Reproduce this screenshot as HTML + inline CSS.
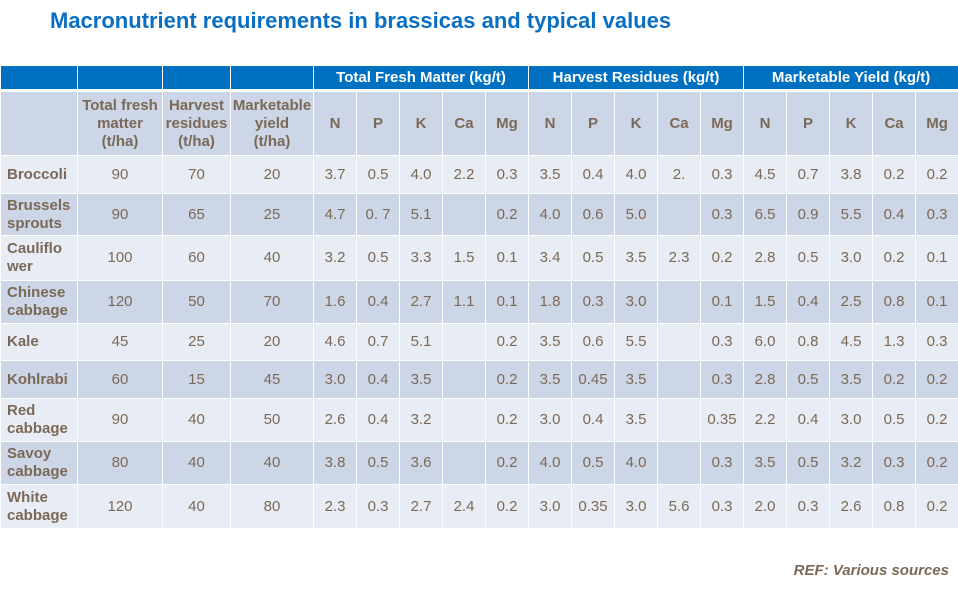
<!DOCTYPE html>
<html><head><meta charset="utf-8"><style>
body{margin:0;width:958px;height:593px;background:#fff;position:relative;overflow:hidden;font-family:"Liberation Sans",Arial,sans-serif}
.title{position:absolute;left:50px;top:8px;font-size:22px;font-weight:bold;color:#0a6fc2;white-space:nowrap}
table{position:absolute;left:0;top:65px;border-collapse:collapse;table-layout:fixed;width:958px}
td{border:1px solid #fff;text-align:center;vertical-align:middle;color:#7b6957;font-size:15px;padding:0;line-height:18px;white-space:nowrap}
tr.h1 td{background:#0070c0;color:#fff;font-weight:bold;height:23px;border-bottom:3px solid #fff}
tr.h2 td{background:#cdd6e6;font-weight:bold;height:63px}
tr.l td{background:#e8ecf4}
tr.d td{background:#cdd6e6}
td.n{text-align:left;padding-left:6px;font-weight:bold}
.ref{position:absolute;right:9px;top:562px;font-size:15px;font-weight:bold;font-style:italic;color:#7b6957}
</style></head><body>
<div class="title">Macronutrient requirements in brassicas and typical values</div>
<table>
<colgroup><col style="width:77px"><col style="width:85px"><col style="width:68px"><col style="width:83px">
<col style="width:43px"><col style="width:43px"><col style="width:43px"><col style="width:43px"><col style="width:43px">
<col style="width:43px"><col style="width:43px"><col style="width:43px"><col style="width:43px"><col style="width:43px">
<col style="width:43px"><col style="width:43px"><col style="width:43px"><col style="width:43px"><col style="width:43px"></colgroup>
<tr class="h1"><td></td><td></td><td></td><td></td><td colspan="5">Total Fresh Matter (kg/t)</td><td colspan="5">Harvest Residues (kg/t)</td><td colspan="5">Marketable Yield (kg/t)</td></tr>
<tr class="h2"><td></td><td>Total fresh<br>matter<br>(t/ha)</td><td>Harvest<br>residues<br>(t/ha)</td><td>Marketable<br>yield<br>(t/ha)</td><td>N</td><td>P</td><td>K</td><td>Ca</td><td>Mg</td><td>N</td><td>P</td><td>K</td><td>Ca</td><td>Mg</td><td>N</td><td>P</td><td>K</td><td>Ca</td><td>Mg</td></tr>
<tr class="l" style="height:38px"><td class="n">Broccoli</td><td>90</td><td>70</td><td>20</td><td>3.7</td><td>0.5</td><td>4.0</td><td>2.2</td><td>0.3</td><td>3.5</td><td>0.4</td><td>4.0</td><td>2.</td><td>0.3</td><td>4.5</td><td>0.7</td><td>3.8</td><td>0.2</td><td>0.2</td></tr>
<tr class="d" style="height:42px"><td class="n">Brussels<br>sprouts</td><td>90</td><td>65</td><td>25</td><td>4.7</td><td>0. 7</td><td>5.1</td><td></td><td>0.2</td><td>4.0</td><td>0.6</td><td>5.0</td><td></td><td>0.3</td><td>6.5</td><td>0.9</td><td>5.5</td><td>0.4</td><td>0.3</td></tr>
<tr class="l" style="height:45px"><td class="n">Cauliflo<br>wer</td><td>100</td><td>60</td><td>40</td><td>3.2</td><td>0.5</td><td>3.3</td><td>1.5</td><td>0.1</td><td>3.4</td><td>0.5</td><td>3.5</td><td>2.3</td><td>0.2</td><td>2.8</td><td>0.5</td><td>3.0</td><td>0.2</td><td>0.1</td></tr>
<tr class="d" style="height:43px"><td class="n">Chinese<br>cabbage</td><td>120</td><td>50</td><td>70</td><td>1.6</td><td>0.4</td><td>2.7</td><td>1.1</td><td>0.1</td><td>1.8</td><td>0.3</td><td>3.0</td><td></td><td>0.1</td><td>1.5</td><td>0.4</td><td>2.5</td><td>0.8</td><td>0.1</td></tr>
<tr class="l" style="height:37px"><td class="n">Kale</td><td>45</td><td>25</td><td>20</td><td>4.6</td><td>0.7</td><td>5.1</td><td></td><td>0.2</td><td>3.5</td><td>0.6</td><td>5.5</td><td></td><td>0.3</td><td>6.0</td><td>0.8</td><td>4.5</td><td>1.3</td><td>0.3</td></tr>
<tr class="d" style="height:38px"><td class="n">Kohlrabi</td><td>60</td><td>15</td><td>45</td><td>3.0</td><td>0.4</td><td>3.5</td><td></td><td>0.2</td><td>3.5</td><td>0.45</td><td>3.5</td><td></td><td>0.3</td><td>2.8</td><td>0.5</td><td>3.5</td><td>0.2</td><td>0.2</td></tr>
<tr class="l" style="height:43px"><td class="n">Red<br>cabbage</td><td>90</td><td>40</td><td>50</td><td>2.6</td><td>0.4</td><td>3.2</td><td></td><td>0.2</td><td>3.0</td><td>0.4</td><td>3.5</td><td></td><td>0.35</td><td>2.2</td><td>0.4</td><td>3.0</td><td>0.5</td><td>0.2</td></tr>
<tr class="d" style="height:43px"><td class="n">Savoy<br>cabbage</td><td>80</td><td>40</td><td>40</td><td>3.8</td><td>0.5</td><td>3.6</td><td></td><td>0.2</td><td>4.0</td><td>0.5</td><td>4.0</td><td></td><td>0.3</td><td>3.5</td><td>0.5</td><td>3.2</td><td>0.3</td><td>0.2</td></tr>
<tr class="l" style="height:44px"><td class="n">White<br>cabbage</td><td>120</td><td>40</td><td>80</td><td>2.3</td><td>0.3</td><td>2.7</td><td>2.4</td><td>0.2</td><td>3.0</td><td>0.35</td><td>3.0</td><td>5.6</td><td>0.3</td><td>2.0</td><td>0.3</td><td>2.6</td><td>0.8</td><td>0.2</td></tr>
</table>
<div class="ref">REF: Various sources</div>
</body></html>
